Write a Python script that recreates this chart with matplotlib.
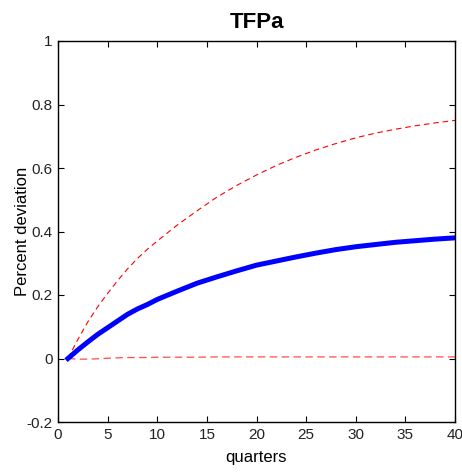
import numpy as np
import matplotlib
matplotlib.use("Agg")
import matplotlib.pyplot as plt

plt.rcParams['font.family'] = ['Liberation Sans', 'DejaVu Sans']

# impulse response of TFPa
quarters = [1, 2, 3, 4, 5, 6, 7, 8, 9, 10, 12, 14, 16, 18, 20, 22, 24, 26, 28, 30, 32, 34, 36, 38, 40]
median = [0.0, 0.027, 0.052, 0.076, 0.097, 0.118, 0.139, 0.156, 0.170, 0.186, 0.212, 0.237, 0.257, 0.276, 0.294,
          0.307, 0.320, 0.332, 0.343, 0.352, 0.359, 0.366, 0.371, 0.376, 0.380]
upper = [0.0, 0.060, 0.115, 0.163, 0.205, 0.245, 0.282, 0.315, 0.344, 0.370, 0.420, 0.465, 0.508, 0.545, 0.578,
         0.608, 0.634, 0.657, 0.677, 0.695, 0.710, 0.722, 0.733, 0.742, 0.750]
lower = [0.0, -0.002, -0.002, -0.001, 0.001, 0.002, 0.003, 0.003, 0.003, 0.004, 0.004, 0.004, 0.005, 0.005, 0.005,
         0.005, 0.005, 0.005, 0.005, 0.005, 0.005, 0.005, 0.005, 0.005, 0.005]

fig = plt.figure(figsize=(4.62, 4.72), dpi=100)
ax = fig.add_axes([58 / 462, 1 - 422 / 472, 397 / 462, 381 / 472])

ax.plot(quarters, upper, color='red', linestyle=(0, (5, 3.5)), linewidth=0.8)
ax.plot(quarters, lower, color='red', linestyle=(0, (6, 3.5)), linewidth=0.9, alpha=0.7)
ax.plot(quarters, median, color='blue', linewidth=3.6)

ax.set_xlim(0, 40)
ax.set_ylim(-0.2, 1)
ax.set_xticks(np.arange(0, 41, 5))
ax.set_yticks([-0.2, 0, 0.2, 0.4, 0.6, 0.8, 1])
ax.set_yticklabels(['-0.2', '0', '0.2', '0.4', '0.6', '0.8', '1'])
ax.tick_params(direction='in', top=True, right=True, length=4, labelsize=11, pad=4,
               labelcolor='#222222')
for s in ax.spines.values():
    s.set_linewidth(1.0)

ax.set_title('TFPa', fontsize=16, fontweight='bold', pad=9)
ax.set_xlabel('quarters', fontsize=12, labelpad=6)
ax.set_ylabel('Percent deviation', fontsize=12, labelpad=-3)

fig.savefig('out.png', dpi=100)
